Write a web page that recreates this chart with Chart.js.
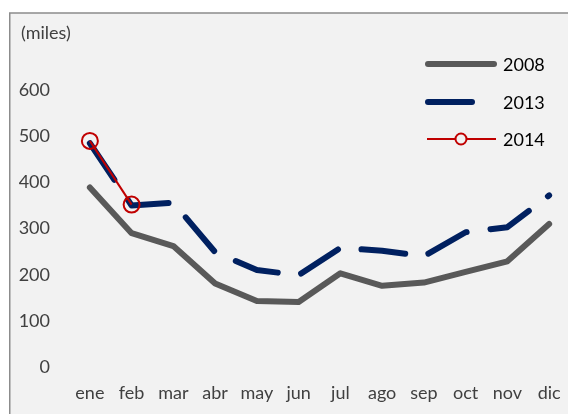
<!DOCTYPE html>
<html><head><meta charset="utf-8">
<script src="https://cdn.jsdelivr.net/npm/chart.js@4/dist/chart.umd.min.js"></script>
<style>
html,body{margin:0;padding:0;overflow:hidden;background:#fff;width:568px;height:414px}
#wrap{position:absolute;left:0;top:0;width:600px;height:414px}
</style></head>
<body><div id="wrap"><canvas id="c" width="600" height="414"></canvas></div>
<script>
const months = ['ene','feb','mar','abr','may','jun','jul','ago','sep','oct','nov','dic'];
const series2008 = [389, 290, 262, 181, 143, 141, 203, 176, 183, 206, 229, 310];
const series2013 = [485, 350, 356, 249, 210, 199, 258, 252, 240, 292, 303, 372];
const series2014 = [490, 352, null, null, null, null, null, null, null, null, null, null];
const seriesNames = ['2008', '2013', '2014'];
const yTicks = [0, 100, 200, 300, 400, 500, 600];
const unitLabel = '(miles)';

const FONT = 'Lato, "Open Sans", sans-serif';
const C2008 = '#595959', C2013 = '#002060', C2014 = '#c00000';
const DASH = [44, 24];

const framePlugin = {
  id: 'frame',
  beforeDraw(chart) {
    const ctx = chart.ctx;
    ctx.save();
    ctx.fillStyle = '#ffffff';
    ctx.fillRect(0, 0, chart.width, chart.height);
    ctx.fillStyle = '#f2f2f2';
    ctx.fillRect(10, 13, chart.width, chart.height);
    ctx.strokeStyle = '#8c8c8c';
    ctx.lineWidth = 1.5;
    ctx.beginPath();
    ctx.moveTo(9.75, chart.height);
    ctx.lineTo(9.75, 13);
    ctx.lineTo(chart.width, 13);
    ctx.stroke();
    ctx.restore();
  },
  afterDraw(chart) {
    const ctx = chart.ctx;
    ctx.save();
    ctx.font = '18px ' + FONT;
    ctx.textBaseline = 'middle';
    ctx.fillStyle = '#404040';
    ctx.fillText(unitLabel, 21, 33);
    // legend
    const ds = chart.data.datasets;
    const rows = [
      {y: 64, name: seriesNames[0]},
      {y: 102, name: seriesNames[1]},
      {y: 139, name: seriesNames[2]}
    ];
    ctx.lineCap = 'round';
    // 2008
    ctx.strokeStyle = C2008; ctx.lineWidth = 6; ctx.setLineDash([]);
    ctx.beginPath(); ctx.moveTo(428, rows[0].y); ctx.lineTo(494, rows[0].y); ctx.stroke();
    // 2013
    ctx.strokeStyle = C2013; ctx.lineWidth = 6; ctx.setLineDash(DASH);
    ctx.beginPath(); ctx.moveTo(428, rows[1].y); ctx.lineTo(494, rows[1].y); ctx.stroke();
    // 2014
    ctx.setLineDash([]); ctx.lineCap = 'butt';
    ctx.strokeStyle = C2014; ctx.lineWidth = 2;
    ctx.beginPath(); ctx.moveTo(427, rows[2].y); ctx.lineTo(496, rows[2].y); ctx.stroke();
    ctx.fillStyle = '#f2f2f2';
    ctx.beginPath(); ctx.arc(461, rows[2].y, 5.5, 0, Math.PI * 2); ctx.fill(); ctx.stroke();
    ctx.fillStyle = '#000000';
    ctx.font = '18px ' + FONT;
    rows.forEach(r => ctx.fillText(r.name, 503, r.y + 1));
    ctx.restore();
  }
};

new Chart(document.getElementById('c'), {
  type: 'line',
  data: {
    labels: months,
    datasets: [
      {label: seriesNames[2], data: series2014, order: 0, borderColor: C2014, borderWidth: 2,
       pointRadius: 8, pointBorderWidth: 2, pointBorderColor: C2014, pointBackgroundColor: 'rgba(0,0,0,0)',
       pointStyle: 'circle', tension: 0, spanGaps: false},
      {label: seriesNames[1], data: series2013, order: 1, borderColor: C2013, borderWidth: 6,
       borderDash: DASH, borderCapStyle: 'round', borderJoinStyle: 'round', pointRadius: 0, tension: 0},
      {label: seriesNames[0], data: series2008, order: 2, borderColor: C2008, borderWidth: 6,
       borderCapStyle: 'round', borderJoinStyle: 'round', pointRadius: 0, tension: 0}
    ]
  },
  options: {
    responsive: false,
    animation: false,
    devicePixelRatio: 1,
    layout: {padding: {left: 10, top: 44, right: 30, bottom: 10}},
    plugins: {legend: {display: false}, tooltip: {enabled: false}, title: {display: false}},
    scales: {
      x: {
        type: 'category',
        offset: true,
        grid: {display: false, drawTicks: false},
        border: {display: false},
        ticks: {color: '#404040', font: {family: FONT, size: 18}, padding: 15, maxRotation: 0, autoSkip: false},
        afterFit(s) { s.height = 37; }
      },
      y: {
        min: 0, max: 700,
        afterBuildTicks(s) { s.ticks = yTicks.concat([700]).map(v => ({value: v})); },
        grid: {display: false, drawTicks: false},
        border: {display: false},
        ticks: {color: '#404040', font: {family: FONT, size: 18}, padding: 19,
                callback: v => (yTicks.includes(v) ? String(v) : '')},
        afterFit(s) { s.width = 59; }
      }
    }
  },
  plugins: [framePlugin]
});
</script>
</body></html>
